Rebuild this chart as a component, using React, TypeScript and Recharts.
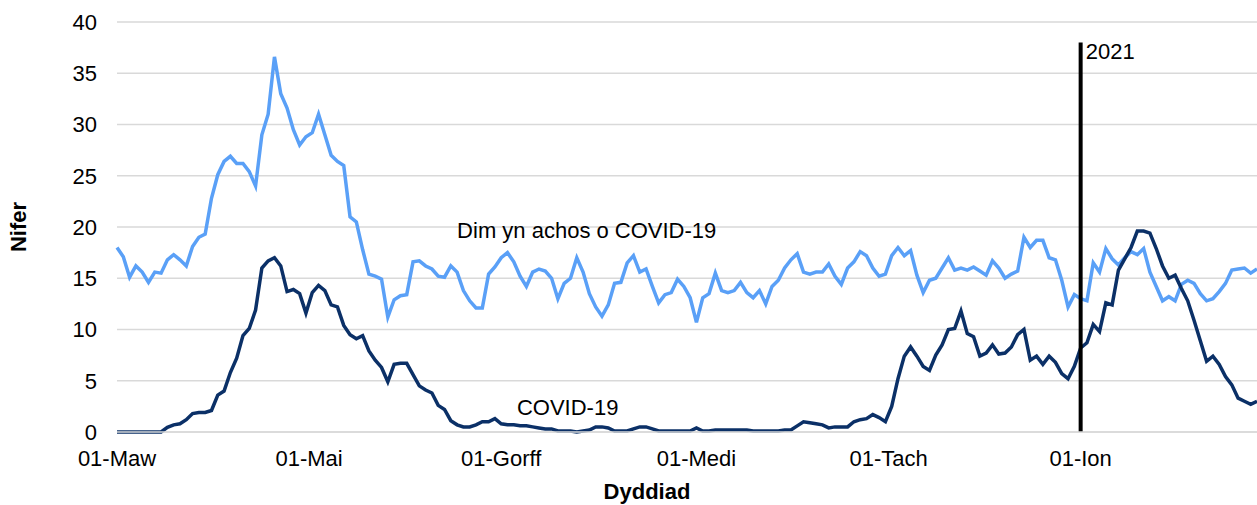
import React from 'react';
import { LineChart, Line, XAxis, YAxis, CartesianGrid, ReferenceLine, ReferenceDot } from 'recharts';

// values every 2 days, starting 01-Maw 2020
const notCovid = [
  18.0, 17.1, 15.1, 16.2, 15.6, 14.6, 15.6, 15.5, 16.8, 17.3,
  16.8, 16.2, 18.1, 19.0, 19.3, 22.8, 25.1, 26.4, 26.9, 26.2,
  26.2, 25.4, 24.0, 29.0, 31.0, 36.6, 33.0, 31.6, 29.5, 28.0,
  28.8, 29.2, 31.0, 29.0, 27.0, 26.4, 26.0, 21.0, 20.5, 17.8,
  15.4, 15.2, 14.9, 11.2, 12.9, 13.3, 13.4, 16.6, 16.7, 16.2,
  15.9, 15.2, 15.1, 16.2, 15.6, 13.8, 12.8, 12.1, 12.1, 15.4,
  16.1, 17.0, 17.5, 16.6, 15.2, 14.2, 15.6, 15.9, 15.7, 15.0,
  13.0, 14.5, 15.0, 17.0, 15.6, 13.5, 12.2, 11.3, 12.4, 14.5,
  14.6, 16.5, 17.2, 15.6, 15.9, 14.2, 12.6, 13.4, 13.6, 14.9,
  14.2, 13.1, 10.7, 13.1, 13.5, 15.5, 13.8, 13.6, 13.8, 14.6,
  13.6, 13.1, 13.8, 12.5, 14.2, 14.8, 16.0, 16.8, 17.4, 15.6,
  15.4, 15.6, 15.6, 16.4, 15.2, 14.4, 16.0, 16.6, 17.6, 17.2,
  16.0, 15.2, 15.4, 17.2, 18.0, 17.2, 17.7, 15.3, 13.6, 14.8,
  15.0, 16.0, 17.0, 15.8, 16.0, 15.8, 16.1, 15.7, 15.3, 16.7,
  16.0, 15.0, 15.4, 15.7, 19.0, 18.0, 18.7, 18.7, 17.0, 16.8,
  14.8, 12.2, 13.4, 13.0, 12.8, 16.5, 15.6, 17.9, 16.9, 16.3,
  17.0, 17.6, 17.3, 17.9, 15.6, 14.2, 12.8, 13.2, 12.8, 14.4,
  14.8, 14.5, 13.5, 12.8, 13.0, 13.7, 14.5, 15.8, 15.9, 16.0,
  15.5, 15.9,
];

const covid = [
  0, 0, 0, 0, 0, 0, 0, 0, 0.45, 0.7,
  0.8, 1.2, 1.8, 1.9, 1.9, 2.1, 3.6, 4.0, 5.8, 7.2,
  9.4, 10.1, 11.9, 16.0, 16.7, 17.0, 16.2, 13.7, 13.9, 13.5,
  11.6, 13.6, 14.3, 13.8, 12.4, 12.2, 10.4, 9.5, 9.1, 9.4,
  7.9, 7.0, 6.3, 4.9, 6.6, 6.7, 6.7, 5.6, 4.5, 4.1,
  3.8, 2.6, 2.2, 1.1, 0.7, 0.5, 0.5, 0.7, 1.0, 1.0,
  1.3, 0.8, 0.7, 0.7, 0.6, 0.6, 0.5, 0.4, 0.3, 0.3,
  0.1, 0.1, 0.1, 0, 0.1, 0.2, 0.5, 0.5, 0.4, 0.1,
  0.1, 0.1, 0.3, 0.5, 0.5, 0.3, 0.1, 0.1, 0.1, 0.1,
  0.1, 0.1, 0.4, 0.1, 0.1, 0.2, 0.2, 0.2, 0.2, 0.2,
  0.2, 0.1, 0.1, 0.1, 0.1, 0.1, 0.2, 0.2, 0.6, 1.0,
  0.9, 0.8, 0.7, 0.4, 0.5, 0.5, 0.5, 1.0, 1.2, 1.3,
  1.7, 1.4, 1.0, 2.5, 5.2, 7.4, 8.3, 7.4, 6.4, 6.0,
  7.5, 8.5, 10.0, 10.1, 11.8, 9.6, 9.3, 7.4, 7.7, 8.5,
  7.6, 7.7, 8.3, 9.5, 10.0, 7.0, 7.4, 6.6, 7.4, 6.8,
  5.7, 5.2, 6.4, 8.2, 8.7, 10.5, 9.8, 12.6, 12.4, 15.8,
  16.9, 18.0, 19.6, 19.6, 19.4, 17.9, 16.2, 15.0, 15.3, 14.0,
  12.8, 10.9, 8.9, 6.9, 7.4, 6.6, 5.4, 4.6, 3.3, 3.0,
  2.7, 3.0,
];

const days = notCovid.map((_, i) => i * 2);

const tickDays = [0, 61, 122, 184, 245, 306];
const tickLabels = ['01-Maw', '01-Mai', '01-Gorff', '01-Medi', '01-Tach', '01-Ion'];
const yTicks = [0, 5, 10, 15, 20, 25, 30, 35, 40];

const data = days.map((d, i) => ({ day: d, notCovid: notCovid[i], covid: covid[i] }));

const font = '"Liberation Sans", Arial, sans-serif';
const tickStyle = { fontSize: 22, fill: '#000', fontFamily: font };

export default function App() {
  return (
    <div style={{ width: 1257, height: 505 }}>
      <style>{'body{margin:0}'}</style>
      <LineChart width={1257} height={505} data={data} margin={{ top: 22, right: 0, bottom: 0, left: 0 }}>
        <CartesianGrid vertical={false} stroke="#d9d9d9" strokeWidth={1.5} />
        <XAxis
          dataKey="day"
          type="number"
          domain={[0, 362]}
          ticks={tickDays}
          tickFormatter={(v: number) => tickLabels[tickDays.indexOf(v)]}
          tick={tickStyle}
          tickLine={false}
          tickMargin={12}
          height={73}
          axisLine={{ stroke: '#d9d9d9', strokeWidth: 1.5 }}
          interval={0}
          label={{ value: 'Dyddiad', position: 'insideBottom', offset: 6, dx: -40, style: { fontSize: 22, fontWeight: 'bold', fill: '#000', fontFamily: font } }}
        />
        <YAxis
          width={117}
          domain={[0, 40]}
          ticks={yTicks}
          tick={tickStyle}
          tickLine={false}
          axisLine={false}
          tickMargin={14}
          interval={0}
          label={{ value: 'Nifer', angle: -90, position: 'insideLeft', offset: 18, style: { fontSize: 22, fontWeight: 'bold', fill: '#000', fontFamily: font, textAnchor: 'middle' } }}
        />
        <Line type="linear" dataKey="notCovid" stroke="#5aa0f7" strokeWidth={3.5} dot={false} isAnimationActive={false} />
        <Line type="linear" dataKey="covid" stroke="#0b3067" strokeWidth={3.5} dot={false} isAnimationActive={false} />
        <ReferenceLine segment={[{ x: 306, y: 0 }, { x: 306, y: 38 }]} stroke="#000" strokeWidth={4} />
        <ReferenceDot x={307.6} y={37.2} r={0} stroke="none" label={{ value: '2021', position: 'right', offset: 0, style: { fontSize: 22, fill: '#000', fontFamily: font } }} />
        <ReferenceDot x={108} y={19.7} r={0} stroke="none" label={{ value: 'Dim yn achos o COVID-19', position: 'right', offset: 0, style: { fontSize: 22, fill: '#000', fontFamily: font } }} />
        <ReferenceDot x={127} y={2.4} r={0} stroke="none" label={{ value: 'COVID-19', position: 'right', offset: 0, style: { fontSize: 22, fill: '#000', fontFamily: font } }} />
      </LineChart>
    </div>
  );
}
